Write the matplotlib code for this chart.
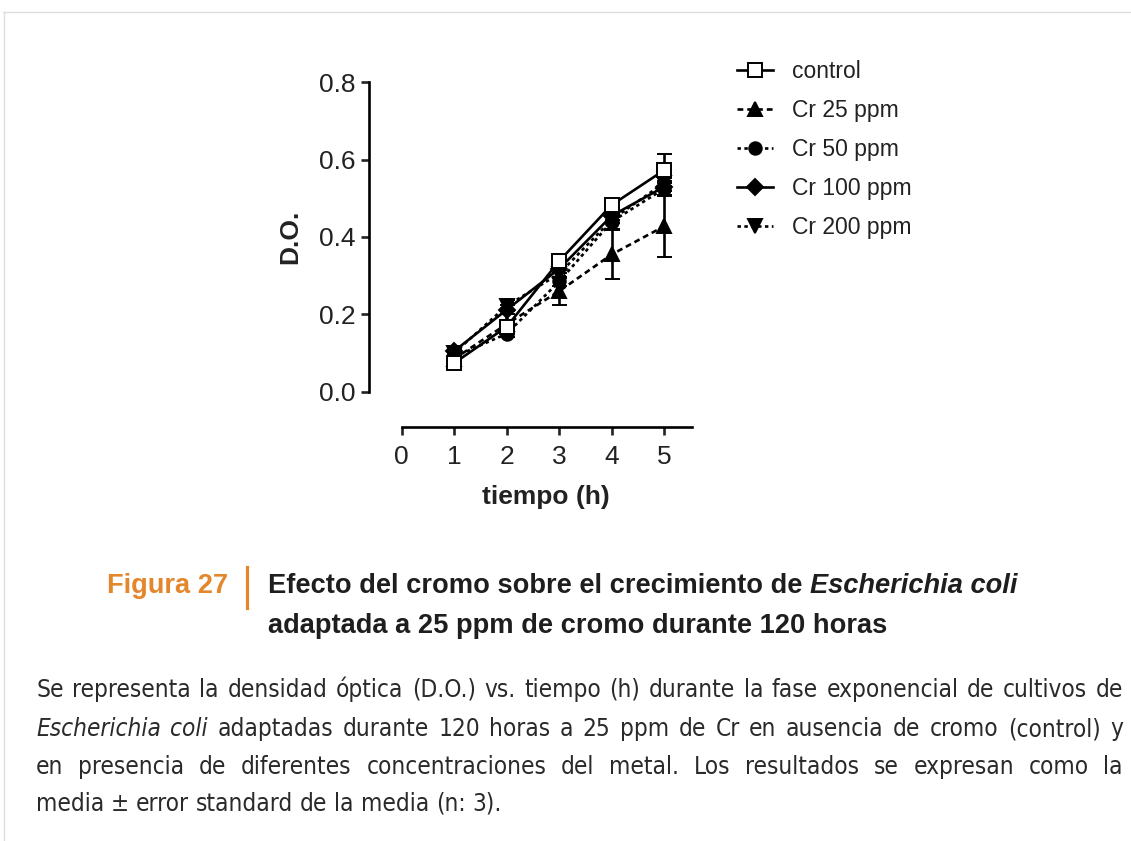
import matplotlib
matplotlib.use("Agg")
import os
import matplotlib.pyplot as plt
from matplotlib import font_manager
from matplotlib.font_manager import FontProperties
from matplotlib.lines import Line2D

# ---------------- data ----------------
tiempo = [1, 2, 3, 4, 5]
series_names = ["control", "Cr 25 ppm", "Cr 50 ppm", "Cr 100 ppm", "Cr 200 ppm"]
control = [0.074, 0.168, 0.338, 0.483, 0.573]
control_err = [0.005, 0.008, 0.010, 0.015, 0.042]
cr25 = [0.085, 0.175, 0.260, 0.355, 0.428]
cr25_err = [0.005, 0.010, 0.036, 0.064, 0.080]
cr50 = [0.090, 0.150, 0.285, 0.440, 0.525]
cr50_err = [0.005, 0.008, 0.012, 0.020, 0.020]
cr100 = [0.105, 0.212, 0.318, 0.455, 0.530]
cr100_err = [0.005, 0.012, 0.010, 0.012, 0.010]
cr200 = [0.100, 0.222, 0.305, 0.445, 0.540]
cr200_err = [0.005, 0.014, 0.010, 0.010, 0.012]
y_ticks = [0.0, 0.2, 0.4, 0.6, 0.8]
x_ticks = [0, 1, 2, 3, 4, 5]

title_label = "Figura 27"
title_line1 = "Efecto del cromo sobre el crecimiento de "
title_line1_it = "Escherichia coli"
title_line2 = "adaptada a 25 ppm de cromo durante 120 horas"
para_lines = [
    [("Se representa la densidad óptica (D.O.) vs. tiempo (h) durante la fase exponencial de cultivos de", "normal")],
    [("Escherichia coli", "italic"), ("adaptadas durante 120 horas a 25 ppm de Cr en ausencia de cromo (control) y", "normal")],
    [("en presencia de diferentes concentraciones del metal. Los resultados se expresan como la", "normal")],
    [("media ± error standard de la media (n: 3).", "normal")],
]

# ---------------- fonts ----------------
def has_font(name):
    try:
        font_manager.findfont(name, fallback_to_default=False)
        return True
    except Exception:
        return False

base = "Liberation Sans" if has_font("Liberation Sans") else "DejaVu Sans"
plt.rcParams["font.family"] = [base, "DejaVu Sans"]

# look for a condensed face for the paragraph
para_family, para_stretch = base, "normal"
for fam in ["Liberation Sans Narrow", "DejaVu Sans", "Open Sans", "Roboto", "Noto Sans"]:
    try:
        p = font_manager.findfont(FontProperties(family=fam, stretch="condensed"),
                                  fallback_to_default=False)
    except Exception:
        continue
    fn = os.path.basename(p).lower()
    if "narrow" in fn or "condensed" in fn or "cond" in fn:
        para_family, para_stretch = fam, "condensed"
        break

W, H = 1131, 841
fig = plt.figure(figsize=(W / 100, H / 100), dpi=100)
fig.patch.set_facecolor("white")

def fx(px):
    return px / W

def fy(py):
    return 1 - py / H

# ---------------- chart ----------------
x0_px, x5_px = 401.7, 664.3
y0_px, y8_px = 391.7, 82.3
ax_left, ax_right = 369.3, 692.3
ax_bottom = 426.7
ppx = (x5_px - x0_px) / 5
ppy = (y0_px - y8_px) / 0.8
xmin = (ax_left - x0_px) / ppx
xmax = (ax_right - x0_px) / ppx
ymin = -(ax_bottom - y0_px) / ppy

ax = fig.add_axes([fx(ax_left), fy(ax_bottom), (ax_right - ax_left) / W, (ax_bottom - y8_px) / H])
ax.set_xlim(xmin, xmax)
ax.set_ylim(ymin, 0.8)
for s in ["top", "right"]:
    ax.spines[s].set_visible(False)
ax.spines["left"].set_bounds(0, 0.8)
ax.spines["bottom"].set_bounds(0, xmax)
for s in ["left", "bottom"]:
    ax.spines[s].set_linewidth(1.9)
ax.set_xticks(x_ticks)
ax.set_yticks(y_ticks)
ax.set_yticklabels([f"{v:.1f}" for v in y_ticks])
ax.tick_params(axis="both", direction="out", length=6, width=1.9, labelsize=19, colors="#222222")
ax.tick_params(axis="x", pad=7)
ax.tick_params(axis="y", pad=4)
ax.patch.set_alpha(0)

styles = [
    dict(data=cr25, err=cr25_err, marker="^", ls=(0, (2.2, 1.5)), ms=9.5, mfc="black", z=3),
    dict(data=cr50, err=cr50_err, marker="o", ls=(0, (1.3, 1.3)), ms=9, mfc="black", z=4),
    dict(data=cr200, err=cr200_err, marker="v", ls=(0, (1.3, 1.3)), ms=9.5, mfc="black", z=5),
    dict(data=cr100, err=cr100_err, marker="D", ls="-", ms=8, mfc="black", z=6),
    dict(data=control, err=control_err, marker="s", ls="-", ms=10.5, mfc="white", z=7),
]
order_names = ["Cr 25 ppm", "Cr 50 ppm", "Cr 200 ppm", "Cr 100 ppm", "control"]
handles = {}
for name, st in zip(order_names, styles):
    eb = ax.errorbar(tiempo, st["data"], yerr=st["err"], color="black", linestyle=st["ls"],
                     linewidth=1.9, marker=st["marker"], markersize=st["ms"],
                     markerfacecolor=st["mfc"], markeredgecolor="black", markeredgewidth=1.4,
                     elinewidth=1.9, capsize=5.4, capthick=1.9, zorder=st["z"], clip_on=False)
    handles[name] = eb[0]

leg = fig.legend([handles[n] for n in series_names], series_names, loc="upper left",
                 bbox_to_anchor=(fx(737), fy(60)), frameon=False, fontsize=16.5,
                 handlelength=1.55, handletextpad=0.85, labelspacing=0.70,
                 borderpad=0, borderaxespad=0, numpoints=1)
for t in leg.get_texts():
    t.set_color("#222222")

fig.text(fx(546), fy(497), "tiempo (h)", fontsize=19, fontweight="bold", ha="center", va="center",
         color="#222222")
fig.text(fx(290), fy(237), "D.O.", fontsize=19, fontweight="bold", ha="center", va="center",
         rotation=90, color="#222222")

# ---------------- caption ----------------
orange = "#E3862C"
renderer = fig.canvas.get_renderer()

def width_px(t):
    return t.get_window_extent(renderer).width

title_fs = 19.6
fig.text(fx(107), fy(593), title_label, fontsize=title_fs, fontweight="bold", color=orange,
         ha="left", va="baseline")
fig.add_artist(Line2D([fx(247), fx(247)], [fy(567), fy(608)], color=orange, linewidth=2.3))
t1 = fig.text(fx(268), fy(593), title_line1, fontsize=title_fs, fontweight="bold", color="#1e1e1e",
              ha="left", va="baseline")
w1 = width_px(t1)
fig.text(fx(268 + w1), fy(593), title_line1_it, fontsize=title_fs, fontweight="bold", style="italic",
         color="#1e1e1e", ha="left", va="baseline")
fig.text(fx(268), fy(633), title_line2, fontsize=title_fs, fontweight="bold", color="#1e1e1e",
         ha="left", va="baseline")

# justified paragraph
para_left, para_right = 36, 1123
para_base = [697, 736, 774, 811]
pfam = [para_family, "DejaVu Sans"]

def ptext(x, y, s, fs, style="normal"):
    return fig.text(x, y, s, fontsize=fs, style=style, family=pfam, stretch=para_stretch,
                    color="#2a2a2a", ha="left", va="baseline")

# fit font size so that the first (fullest) line fills the column with normal word spacing
probe = ptext(0, 0, para_lines[0][0][0], 17)
natural = width_px(probe)
probe.remove()
para_fs = min(17.5, 17 * (para_right - para_left) / natural * 0.995)

probe = ptext(0, 0, "a a", para_fs)
probe2 = ptext(0, 0, "aa", para_fs)
space_w = width_px(probe) - width_px(probe2)
probe.remove()
probe2.remove()

for li, (segs, ypx) in enumerate(zip(para_lines, para_base)):
    words = []
    for txt, style in segs:
        for w in txt.split():
            words.append((w, style))
    objs = [ptext(0, fy(ypx), w, para_fs, style) for w, style in words]
    widths = [width_px(o) for o in objs]
    last = li == len(para_lines) - 1
    if last or len(objs) < 2:
        gap = space_w
    else:
        gap = (para_right - para_left - sum(widths)) / (len(objs) - 1)
    xcur = para_left
    for o, w in zip(objs, widths):
        o.set_x(fx(xcur))
        xcur += w + gap

# faint page border
border = "#dedede"
fig.add_artist(Line2D([fx(3), 1], [fy(11.5), fy(11.5)], color=border, linewidth=1))
fig.add_artist(Line2D([fx(3.5), fx(3.5)], [fy(11.5), 0], color=border, linewidth=1))

fig.savefig("out.png", dpi=100, facecolor="white")
